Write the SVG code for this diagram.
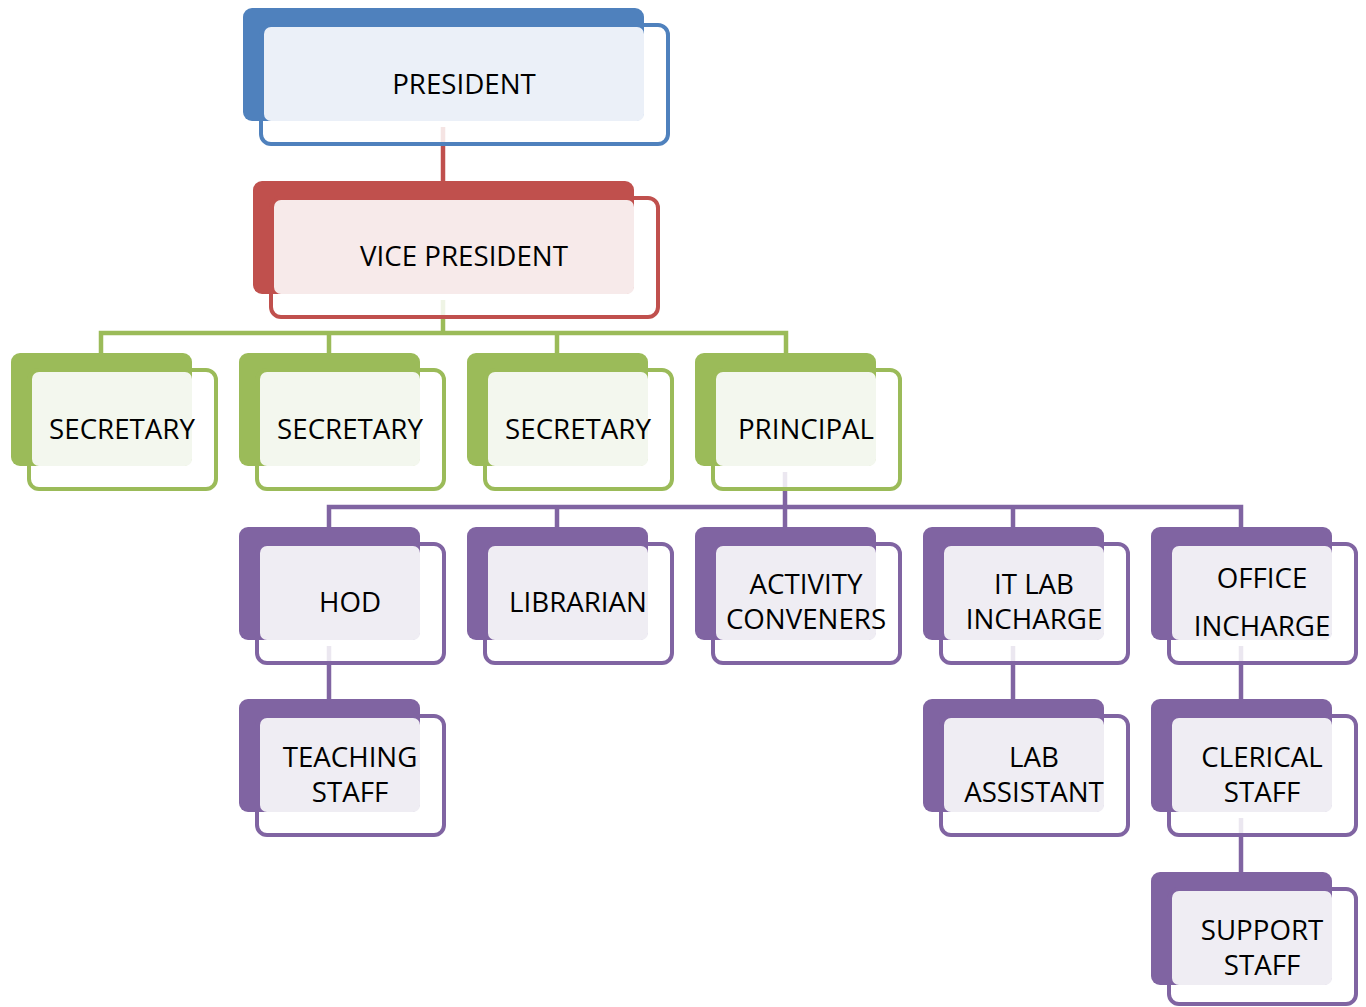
<svg xmlns="http://www.w3.org/2000/svg" width="1366" height="1007" viewBox="0 0 1366 1007">
<style>
text{font-family:"Open Sans","Liberation Sans",sans-serif;font-size:27.7px;fill:#000;text-anchor:middle}
.blue .bk{fill:#4F81BD}.blue .ol{stroke:#4F81BD}.blue .lt{fill:#EBF0F8}
.red .bk{fill:#C0504D}.red .ol{stroke:#C0504D}.red .lt{fill:#F7EAEA}
.green .bk{fill:#9BBB59}.green .ol{stroke:#9BBB59}.green .lt{fill:#F3F7EE}
.purple .bk{fill:#8064A2}.purple .ol{stroke:#8064A2}.purple .lt{fill:#EFEDF3}
.ol{fill:none;stroke-width:4}
.c{fill:none;stroke-width:4.5}
.cr{stroke:#C0504D}.cg{stroke:#9BBB59}.cp{stroke:#8064A2}
.f{stroke-width:4.5;opacity:0.15}
</style>
<g id="connectors">
<path class="c cr" d="M443 143V181"/>
<path class="f cr" d="M443 127V143"/>
<path class="c cg" d="M443 316V333M101 353V333H786V353M329 333V353M557 333V353"/>
<path class="f cg" d="M443 300V316"/>
<path class="c cp" d="M785 489V507M329 527V507H1241V527M557 507V527M1013 507V527M785 507V527"/>
<path class="f cp" d="M785 472V489"/>
<path class="c cp" d="M329 662V699"/>
<path class="f cp" d="M329 646V662"/>
<path class="c cp" d="M1013 662V699"/>
<path class="f cp" d="M1013 646V662"/>
<path class="c cp" d="M1241 662V699"/>
<path class="f cp" d="M1241 646V662"/>
<path class="c cp" d="M1241 835V872"/>
<path class="f cp" d="M1241 818V835"/>
</g>
<g id="president" class="blue"><rect class="bk" x="243" y="8" width="401" height="113" rx="9"/><rect class="ol" x="261" y="25" width="407" height="119" rx="10"/><rect class="lt" x="264" y="27" width="380" height="94" rx="7"/><text x="464" y="94">PRESIDENT</text></g>
<g id="vice-president" class="red"><rect class="bk" x="253" y="181" width="381" height="113" rx="9"/><rect class="ol" x="271" y="198" width="387" height="119" rx="10"/><rect class="lt" x="274" y="200" width="360" height="94" rx="7"/><text x="464" y="266">VICE PRESIDENT</text></g>
<g id="secretary-1" class="green"><rect class="bk" x="11" y="353" width="181" height="113" rx="9"/><rect class="ol" x="29" y="370" width="187" height="119" rx="10"/><rect class="lt" x="32" y="372" width="160" height="94" rx="7"/><text x="122" y="439">SECRETARY</text></g>
<g id="secretary-2" class="green"><rect class="bk" x="239" y="353" width="181" height="113" rx="9"/><rect class="ol" x="257" y="370" width="187" height="119" rx="10"/><rect class="lt" x="260" y="372" width="160" height="94" rx="7"/><text x="350" y="439">SECRETARY</text></g>
<g id="secretary-3" class="green"><rect class="bk" x="467" y="353" width="181" height="113" rx="9"/><rect class="ol" x="485" y="370" width="187" height="119" rx="10"/><rect class="lt" x="488" y="372" width="160" height="94" rx="7"/><text x="578" y="439">SECRETARY</text></g>
<g id="principal" class="green"><rect class="bk" x="695" y="353" width="181" height="113" rx="9"/><rect class="ol" x="713" y="370" width="187" height="119" rx="10"/><rect class="lt" x="716" y="372" width="160" height="94" rx="7"/><text x="806" y="439">PRINCIPAL</text></g>
<g id="hod" class="purple"><rect class="bk" x="239" y="527" width="181" height="113" rx="9"/><rect class="ol" x="257" y="544" width="187" height="119" rx="10"/><rect class="lt" x="260" y="546" width="160" height="94" rx="7"/><text x="350" y="612">HOD</text></g>
<g id="librarian" class="purple"><rect class="bk" x="467" y="527" width="181" height="113" rx="9"/><rect class="ol" x="485" y="544" width="187" height="119" rx="10"/><rect class="lt" x="488" y="546" width="160" height="94" rx="7"/><text x="578" y="612">LIBRARIAN</text></g>
<g id="activity-conveners" class="purple"><rect class="bk" x="695" y="527" width="181" height="113" rx="9"/><rect class="ol" x="713" y="544" width="187" height="119" rx="10"/><rect class="lt" x="716" y="546" width="160" height="94" rx="7"/><text x="806" y="594">ACTIVITY</text><text x="806" y="629">CONVENERS</text></g>
<g id="it-lab-incharge" class="purple"><rect class="bk" x="923" y="527" width="181" height="113" rx="9"/><rect class="ol" x="941" y="544" width="187" height="119" rx="10"/><rect class="lt" x="944" y="546" width="160" height="94" rx="7"/><text x="1034" y="594">IT LAB</text><text x="1034" y="629">INCHARGE</text></g>
<g id="office-incharge" class="purple"><rect class="bk" x="1151" y="527" width="181" height="113" rx="9"/><rect class="ol" x="1169" y="544" width="187" height="119" rx="10"/><rect class="lt" x="1172" y="546" width="160" height="94" rx="7"/><text x="1262" y="588">OFFICE</text><text x="1262" y="636">INCHARGE</text></g>
<g id="teaching-staff" class="purple"><rect class="bk" x="239" y="699" width="181" height="113" rx="9"/><rect class="ol" x="257" y="716" width="187" height="119" rx="10"/><rect class="lt" x="260" y="718" width="160" height="94" rx="7"/><text x="350" y="767">TEACHING</text><text x="350" y="802">STAFF</text></g>
<g id="lab-assistant" class="purple"><rect class="bk" x="923" y="699" width="181" height="113" rx="9"/><rect class="ol" x="941" y="716" width="187" height="119" rx="10"/><rect class="lt" x="944" y="718" width="160" height="94" rx="7"/><text x="1034" y="767">LAB</text><text x="1034" y="802">ASSISTANT</text></g>
<g id="clerical-staff" class="purple"><rect class="bk" x="1151" y="699" width="181" height="113" rx="9"/><rect class="ol" x="1169" y="716" width="187" height="119" rx="10"/><rect class="lt" x="1172" y="718" width="160" height="94" rx="7"/><text x="1262" y="767">CLERICAL</text><text x="1262" y="802">STAFF</text></g>
<g id="support-staff" class="purple"><rect class="bk" x="1151" y="872" width="181" height="113" rx="9"/><rect class="ol" x="1169" y="889" width="187" height="115" rx="10"/><rect class="lt" x="1172" y="891" width="160" height="94" rx="7"/><text x="1262" y="940">SUPPORT</text><text x="1262" y="975">STAFF</text></g>
</svg>
